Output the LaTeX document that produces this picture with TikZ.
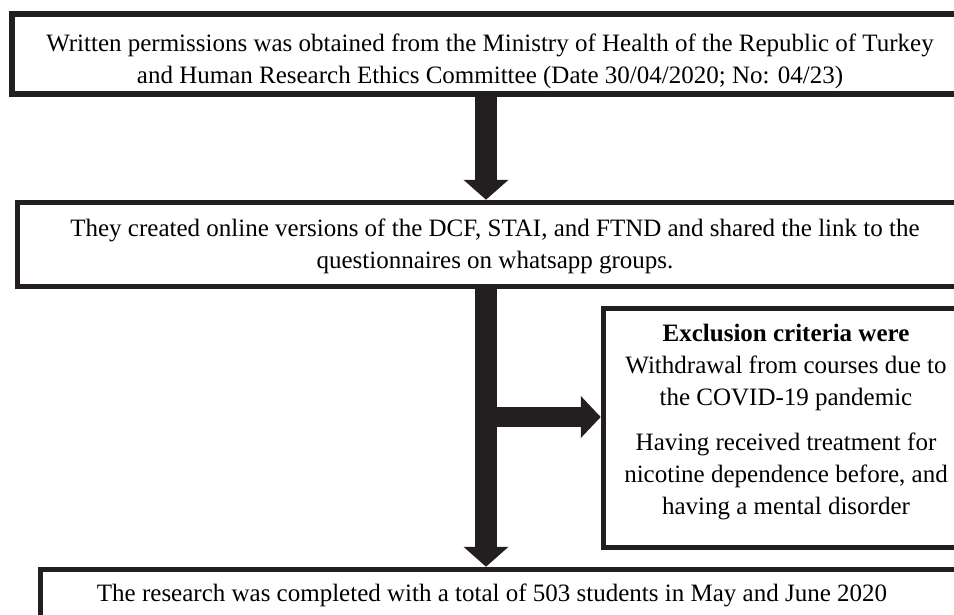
\documentclass[tikz,border=0pt]{standalone}
\usepackage{fontspec}
\setmainfont{Liberation Serif}
\usetikzlibrary{arrows.meta}
\definecolor{ink}{RGB}{35,31,32}
\tikzset{
  txt/.style={font=\fontsize{25}{32}\selectfont, inner sep=0pt, align=center},
  boxstyle/.style={draw=ink, line width=5.5pt, fill=white, inner sep=0pt},
  bigarrow/.style={draw=ink, line width=22pt, -{Triangle[length=20pt,width=44pt]}},
  sidearrow/.style={draw=ink, line width=20pt, -{Triangle[length=20pt,width=41pt]}}
}
\begin{document}
\begin{tikzpicture}[x=1pt,y=-1pt]
\useasboundingbox (0,0) rectangle (954,614);
\node[boxstyle, minimum width=960pt, minimum height=80pt] (b1) at (492,54) {};
\node[txt] (t1) at (490,61)
  {Written permissions was obtained from the Ministry of Health of the Republic of Turkey\\
   and Human Research Ethics Committee (Date 30/04/2020; No: 04/23)};
\node[boxstyle, minimum width=955pt, minimum height=84pt] (b2) at (495,244.5) {};
\node[txt] (t2) at (495,246)
  {They created online versions of the DCF, STAI, and FTND and shared the link to the\\
   questionnaires on whatsapp groups.};
\node[boxstyle, minimum width=369pt, minimum height=239pt] (ex) at (788,428) {};
\node[txt] (tx) at (786,422)
  {\textbf{Exclusion criteria were}\\
   Withdrawal from courses due to\\
   the COVID-19 pandemic\\[13pt]
   Having received treatment for\\
   nicotine dependence before, and\\
   having a mental disorder};
\node[boxstyle, minimum width=934.5pt, minimum height=80.5pt] (b4) at (507.75,609.75) {};
\node[txt] (t4) at (492,595)
  {The research was completed with a total of 503 students in May and June 2020};
\coordinate (ax) at (486,0);
\coordinate (br) at (486,417);
\draw[bigarrow] (ax |- b1.south) -- (ax |- b2.north);
\draw[bigarrow] (ax |- b2.south) -- (ax |- b4.north);
\draw[sidearrow] (br) -- (br -| ex.west);
\end{tikzpicture}
\end{document}
